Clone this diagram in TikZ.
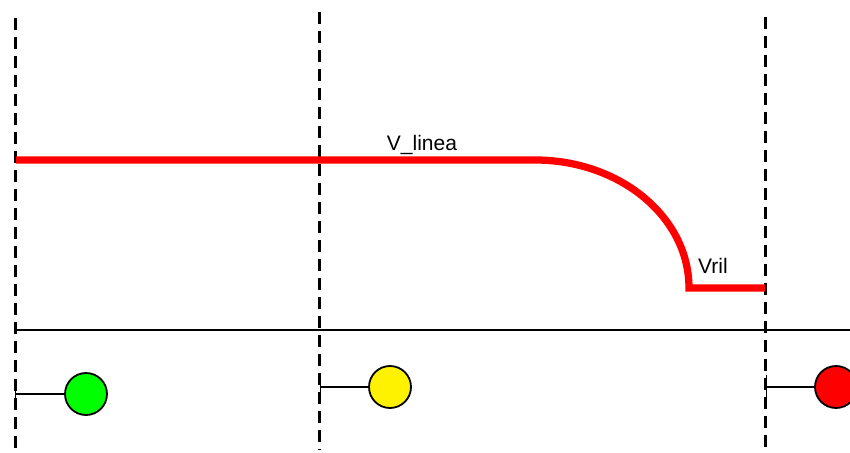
\documentclass[tikz,border=0pt]{standalone}
\usepackage{fontspec}
\setmainfont{Liberation Sans}
\usetikzlibrary{arrows.meta,positioning}

\begin{document}
\begin{tikzpicture}[
  x=0.02cm, y=-0.02cm,
  sect/.style={draw, line width=0.054cm, dash pattern=on 0.235cm off 0.145cm},
  vprof/.style={draw=red, line width=0.145cm, miter limit=10},
  base/.style={draw, line width=0.036cm},
  mast/.style={draw, line width=0.034cm, {Bar[width=0.5cm,line width=0.02cm]}-},
  lamp/.style={draw, circle, line width=0.036cm, inner sep=0pt, minimum size=0.84cm},
  lbl/.style={inner sep=0pt, font=\fontsize{11.95pt}{14pt}\selectfont}
]
\useasboundingbox (0,0) rectangle (850,453);

%% Section limits
\coordinate (s1top) at (15.5,18);
\coordinate (s1bot) at (15.5,453);
\coordinate (s2top) at (319.5,12);
\coordinate (s2bot) at (319.5,450);
\coordinate (s3top) at (765.5,17);
\coordinate (s3bot) at (765.5,453);
\draw[sect] (s1top) -- (s1bot);
\draw[sect] (s2top) -- (s2bot);
\draw[sect] (s3top) -- (s3bot);

%% Speed profile
\coordinate (vstart) at (16,160);
\coordinate (vbrake) at (535,160);
\coordinate (vlow)   at (689,288);
\coordinate (vend)   at (765,288);
\draw[vprof] (vstart) -- (vbrake)
  .. controls (620,160) and (689,217) .. (vlow) -- (vend);
\node[lbl] (vlinea) at (422,144.5) {V\_linea};
\node[lbl] (vril)   at (713,265.5) {Vril};

%% Track
\coordinate (trackl) at (16,330);
\coordinate (trackr) at (850,330);
\draw[base] (trackl) -- (trackr);

%% Signals
\node[lamp, fill=green]  (sigg) at (86,394)  {};
\node[lamp, fill=yellow] (sigy) at (390,387) {};
\node[lamp, fill=red]    (sigr) at (836,387) {};
\coordinate (mastg) at (15.5,394);
\coordinate (masty) at (319.5,387);
\coordinate (mastr) at (765.5,387);
\draw[mast] (mastg) -- (sigg);
\draw[mast] (masty) -- (sigy);
\draw[mast] (mastr) -- (sigr);
\end{tikzpicture}
\end{document}
